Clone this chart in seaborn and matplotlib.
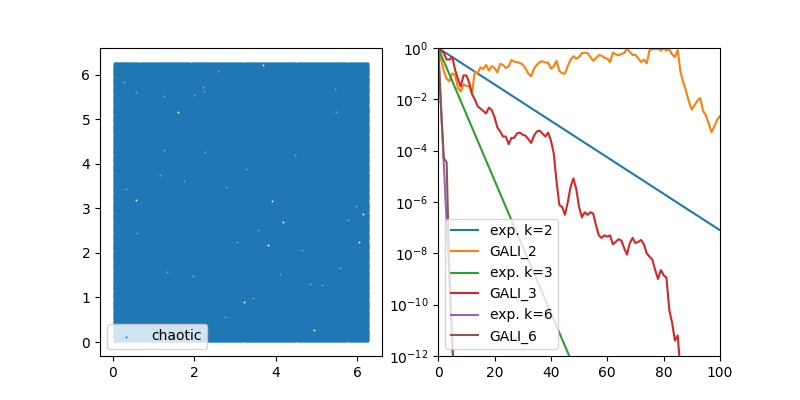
import numpy as np
import pandas as pd
import seaborn as sns
import matplotlib.pyplot as plt

# positions filling the chaotic square
theta_vals = [0.05, 0.08, 0.13, 0.18, 0.23, 0.28, 0.33, 0.38, 0.43, 0.48,
              0.53, 0.58, 0.63, 0.68, 0.73, 0.78, 0.83, 0.88, 0.93, 0.98,
              1.03, 1.08, 1.13, 1.18, 1.23, 1.28, 1.33, 1.38, 1.43, 1.48,
              1.53, 1.58, 1.63, 1.68, 1.73, 1.78, 1.83, 1.88, 1.93, 1.98,
              2.03, 2.08, 2.13, 2.18, 2.23, 2.28, 2.33, 2.38, 2.43, 2.48,
              2.53, 2.58, 2.63, 2.68, 2.73, 2.78, 2.83, 2.88, 2.93, 2.98,
              3.03, 3.08, 3.13, 3.18, 3.23, 3.28, 3.33, 3.38, 3.43, 3.48,
              3.53, 3.58, 3.63, 3.68, 3.73, 3.78, 3.83, 3.88, 3.93, 3.98,
              4.03, 4.08, 4.13, 4.18, 4.23, 4.28, 4.33, 4.38, 4.43, 4.48,
              4.53, 4.58, 4.63, 4.68, 4.73, 4.78, 4.83, 4.88, 4.93, 4.98,
              5.03, 5.08, 5.13, 5.18, 5.23, 5.28, 5.33, 5.38, 5.43, 5.48,
              5.53, 5.58, 5.63, 5.68, 5.73, 5.78, 5.83, 5.88, 5.93, 5.98,
              6.03, 6.08, 6.13, 6.18, 6.23]
# holes in the cloud
bright_x = [6.14, 6.03, 3.91, 4.17, 0.56, 3.81, 3.22, 1.6, 4.93, 3.68]
bright_y = [2.87, 2.24, 3.16, 2.69, 3.19, 2.17, 0.90, 5.15, 0.27, 6.22]
dim_x = [1.25, 2.26, 4.47, 3.26, 1.75, 0.32, 2.77, 1.16, 5.57, 4.83, 5.12,
         4.10, 1.96, 1.32, 0.60, 3.05, 3.55, 5.77, 2.75, 5.96, 4.65, 3.44,
         5.46, 5.47, 1.25, 0.27, 0.56, 2.0, 2.23, 2.57, 2.2]
dim_y = [4.31, 4.26, 4.20, 3.88, 3.62, 3.43, 3.47, 3.75, 1.67, 1.30, 1.28,
         1.52, 1.47, 1.56, 2.44, 2.24, 2.51, 2.74, 0.57, 3.05, 2.06, 0.99,
         5.68, 5.17, 5.53, 5.84, 5.6, 5.55, 5.64, 6.07, 5.73]

exp_x = [0, 100]
exp_k2_log = [0, -7.1]
exp_k3_log = [0, -25.8]
exp_k6_x = [0, 6]
exp_k6_log = [0, -13.6]

gali2_log = [0, -.45, -.9, -1.2, -1.3, -.99, -1.05, -1.55, -1.7, -1.42,
             -1.48, -1.48, -1.75, -.92, -.99, -.75, -.82, -.66, -.88, -.7,
             -.78, -.95, -.62, -.66, -.78, -.72, -.47, -.53, -.55, -.58,
             -.65, -.8, -1.0, -1.1, -.8, -.66, -.55, -.52, -.57, -.57,
             -.8, -.72, -.5, -.9, -.98, -1.0, -.7, -.45, -.32, -.42,
             -.35, -.2, -.18, -.2, -.35, -.5, -.4, -.28, -.3, -.38,
             -.42, -.55, -.18, -.25, -.28, -.23, -.2, -.02, -.15, -.27,
             -.27, -.4, -.55, -.45, -.6, -.08, -.05, -.04, -.03, -.1,
             -.02, -.1, -.05, -.25, -.35, -.08, -.95, -1.35, -1.7, -2.1,
             -2.4, -2.22, -2.05, -1.95, -2.45, -2.63, -2.95, -3.28, -3.05, -2.8,
             -2.65]
gali3_log = [0, -.1, -.2, -.45, -.45, -.35, -.85, -1.2, -1.5, -1.07,
             -1.07, -1.35, -1.8, -2.0, -2.27, -2.36, -2.45, -2.55, -2.32, -2.42,
             -2.7, -3.1, -3.25, -3.45, -3.45, -3.75, -3.5, -3.5, -3.32, -3.3,
             -3.38, -3.42, -3.55, -3.7, -3.42, -3.25, -3.22, -3.33, -3.45, -3.3,
             -3.6, -4.1, -5.2, -6.12, -6.2, -6.5, -6.0, -5.4, -5.08, -5.5,
             -6.2, -6.6, -6.4, -6.5, -6.4, -6.45, -6.9, -7.3, -7.4, -7.3,
             -7.35, -7.3, -7.65, -7.55, -7.45, -7.5, -7.8, -8.05, -7.6, -7.4,
             -7.6, -7.55, -7.48, -7.65, -8.0, -8.13, -8.25, -8.65, -9.0, -8.65,
             -8.85, -8.95, -10.2, -10.7, -11.4, -11.2, -12.6, -14.0]
gali6_log = [0, -2.3, -4.3, -4.45, -8.9, -11.5, -14.0]

blue = '#1f77b4'

fig, (ax1, ax2) = plt.subplots(1, 2, figsize=(8, 4))

# left panel
xx, yy = np.meshgrid(theta_vals, theta_vals)
df = pd.DataFrame({'x': xx.ravel(), 'y': yy.ravel()})
sns.scatterplot(data=df, x='x', y='y', s=10, color=blue, linewidth=0,
                label='chaotic', ax=ax1)
sns.scatterplot(x=dim_x, y=dim_y, s=2, color='#6fa8d2', linewidth=0, ax=ax1)
sns.scatterplot(x=bright_x, y=bright_y, s=2, color='#e4eef6', linewidth=0, ax=ax1)
ax1.set_xlim(-0.314, 6.597)
ax1.set_ylim(-0.314, 6.597)
ax1.set_xlabel('')
ax1.set_ylabel('')
leg1 = ax1.legend(loc='lower left')
leg1.legend_handles[0].set_sizes([2])

# right panel
series = [
    (exp_x, exp_k2_log, 'exp. k=2'),
    (range(len(gali2_log)), gali2_log, 'GALI_2'),
    (exp_x, exp_k3_log, 'exp. k=3'),
    (range(len(gali3_log)), gali3_log, 'GALI_3'),
    (exp_k6_x, exp_k6_log, 'exp. k=6'),
    (range(len(gali6_log)), gali6_log, 'GALI_6'),
]
for i, (x, y_log, name) in enumerate(series):
    sns.lineplot(x=list(x), y=10.0 ** np.array(y_log), label=name,
                 color=f'C{i}', estimator=None, ax=ax2)
ax2.set_yscale('log')
ax2.set_xlim(0, 100)
ax2.set_ylim(1e-12, 1)
ax2.set_yticks([10.0 ** p for p in range(-12, 1, 2)])
ax2.minorticks_off()
ax2.legend(loc='lower left')

fig.savefig('out.png', dpi=100)
